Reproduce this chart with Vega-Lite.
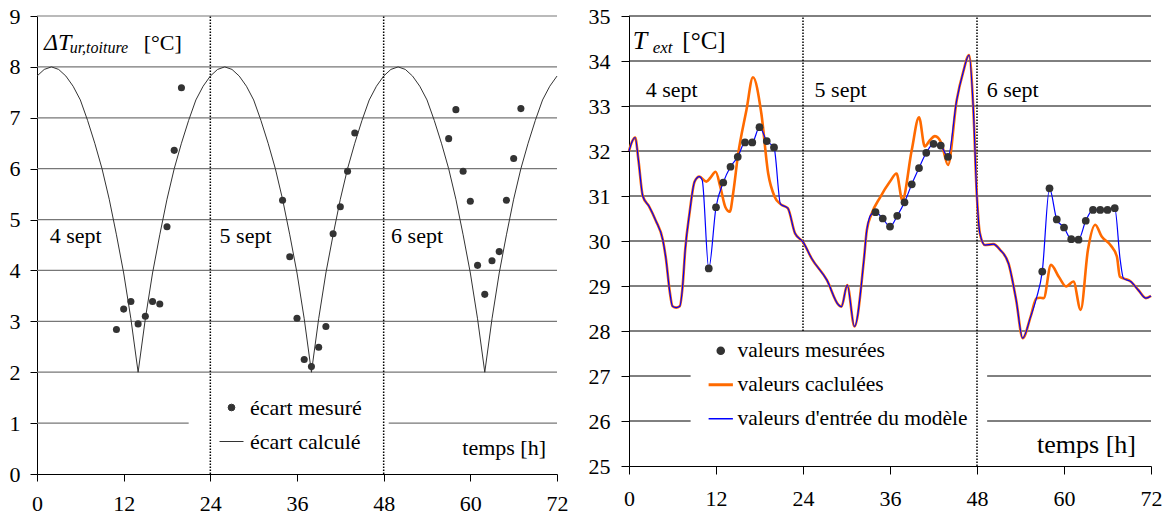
{
  "$schema": "https://vega.github.io/schema/vega-lite/v6.json",
  "padding": {"left": 9, "top": 5, "right": 0, "bottom": 0},
  "spacing": 20,
  "config": {
    "view": {"stroke": null},
    "text": {"font": "'Liberation Serif', 'Times New Roman', Times, serif"},
    "style": {"guide-label": {"font": "'Liberation Serif', 'Times New Roman', Times, serif"}},
    "axis": {"labelColor": "#000", "labelFlush": false, "labelOverlap": false, "grid": false, "domainColor": "#000", "tickColor": "#000", "domainWidth": 1, "tickWidth": 1}
  },
  "resolve": {"scale": {"x": "independent", "y": "independent", "color": "independent"}, "legend": {"color": "independent"}},
  "hconcat": [
    {
      "width": 520,
      "height": 458,
      "encoding": {
        "x": {"field": "h", "type": "quantitative", "title": null, "scale": {"domain": [0, 72], "nice": false},
              "axis": {"values": [0, 12, 24, 36, 48, 60, 72], "tickSize": 7, "labelPadding": 12, "labelFontSize": 22, "labelFont": "'Liberation Serif', 'Times New Roman', Times, serif",
                       "encode": {"labels": {"update": {"font": {"value": "'Liberation Serif', 'Times New Roman', Times, serif"}}}}}},
        "y": {"field": "v", "type": "quantitative", "title": null, "scale": {"domain": [0, 9], "nice": false},
              "axis": {"values": [0, 1, 2, 3, 4, 5, 6, 7, 8, 9], "tickSize": 7, "labelPadding": 10, "labelFontSize": 22, "labelFont": "'Liberation Serif', 'Times New Roman', Times, serif",
                       "encode": {"labels": {"update": {"font": {"value": "'Liberation Serif', 'Times New Roman', Times, serif"}}}}}}
      },
      "layer": [
        {
          "data": {"values": [
            {"v": 2, "h": 0, "h2": 72}, {"v": 3, "h": 0, "h2": 72}, {"v": 4, "h": 0, "h2": 72}, {"v": 5, "h": 0, "h2": 72},
            {"v": 6, "h": 0, "h2": 72}, {"v": 7, "h": 0, "h2": 72}, {"v": 8, "h": 0, "h2": 72}, {"v": 9, "h": 0, "h2": 72},
            {"v": 1, "h": 0, "h2": 21}, {"v": 1, "h": 48.7, "h2": 72}
          ]},
          "mark": {"type": "rule", "color": "#777777", "strokeWidth": 1.2},
          "encoding": {"x2": {"field": "h2"}}
        },
        {
          "data": {"values": [
            {"h": 0, "v": 7.82}, {"h": 1, "v": 7.95}, {"h": 2, "v": 8.0}, {"h": 3, "v": 7.95}, {"h": 4, "v": 7.82}, {"h": 5, "v": 7.62},
            {"h": 6, "v": 7.35}, {"h": 7, "v": 6.95}, {"h": 8, "v": 6.5}, {"h": 9, "v": 6.0}, {"h": 10, "v": 5.4}, {"h": 11, "v": 4.7},
            {"h": 12, "v": 3.95}, {"h": 13, "v": 3.05}, {"h": 14, "v": 2.0}, {"h": 15, "v": 3.05}, {"h": 16, "v": 3.95}, {"h": 17, "v": 4.7},
            {"h": 18, "v": 5.4}, {"h": 19, "v": 6.0}, {"h": 20, "v": 6.5}, {"h": 21, "v": 6.95}, {"h": 22, "v": 7.35}, {"h": 23, "v": 7.62},
            {"h": 24, "v": 7.82}, {"h": 25, "v": 7.95}, {"h": 26, "v": 8.0}, {"h": 27, "v": 7.95}, {"h": 28, "v": 7.82}, {"h": 29, "v": 7.62},
            {"h": 30, "v": 7.35}, {"h": 31, "v": 6.95}, {"h": 32, "v": 6.5}, {"h": 33, "v": 6.0}, {"h": 34, "v": 5.4}, {"h": 35, "v": 4.7},
            {"h": 36, "v": 3.95}, {"h": 37, "v": 3.05}, {"h": 38, "v": 2.0}, {"h": 39, "v": 3.05}, {"h": 40, "v": 3.95}, {"h": 41, "v": 4.7},
            {"h": 42, "v": 5.4}, {"h": 43, "v": 6.0}, {"h": 44, "v": 6.5}, {"h": 45, "v": 6.95}, {"h": 46, "v": 7.35}, {"h": 47, "v": 7.62},
            {"h": 48, "v": 7.82}, {"h": 49, "v": 7.95}, {"h": 50, "v": 8.0}, {"h": 51, "v": 7.95}, {"h": 52, "v": 7.82}, {"h": 53, "v": 7.62},
            {"h": 54, "v": 7.35}, {"h": 55, "v": 6.95}, {"h": 56, "v": 6.5}, {"h": 57, "v": 6.0}, {"h": 58, "v": 5.4}, {"h": 59, "v": 4.7},
            {"h": 60, "v": 3.95}, {"h": 61, "v": 3.05}, {"h": 62, "v": 2.0}, {"h": 63, "v": 3.05}, {"h": 64, "v": 3.95}, {"h": 65, "v": 4.7},
            {"h": 66, "v": 5.4}, {"h": 67, "v": 6.0}, {"h": 68, "v": 6.5}, {"h": 69, "v": 6.95}, {"h": 70, "v": 7.35}, {"h": 71, "v": 7.62},
            {"h": 72, "v": 7.82}
          ]},
          "mark": {"type": "line", "strokeWidth": 1},
          "encoding": {
            "color": {"datum": "écart calculé", "type": "nominal",
              "scale": {"domain": ["écart mesuré", "écart calculé"], "range": ["#333333", "#333333"]},
              "legend": {
                "orient": "none", "legendX": 182, "legendY": 379, "title": null, "padding": 0,
                "labelFont": "'Liberation Serif', 'Times New Roman', Times, serif",
                "labelFontSize": 22, "labelColor": "#000", "labelOffset": 6, "rowPadding": 10, "labelLimit": 0,
                "symbolType": "stroke", "symbolSize": 576, "symbolStrokeWidth": 1,
                "encode": {
                  "labels": {"update": {"font": {"value": "'Liberation Serif', 'Times New Roman', Times, serif"}}},
                  "symbols": {"update": {
                    "shape": {"signal": "datum.index === 0 ? 'circle' : 'stroke'"},
                    "size": {"signal": "datum.index === 0 ? 45 : 576"},
                    "fill": {"signal": "datum.index === 0 ? '#333333' : 'transparent'"},
                    "stroke": {"signal": "datum.index === 0 ? 'transparent' : '#333333'"},
                    "strokeWidth": {"value": 1},
                    "opacity": {"value": 1}
                  }}
                }
              }}
          }
        },
        {
          "data": {"values": [
            {"h": 11, "v": 2.84}, {"h": 12, "v": 3.24}, {"h": 13, "v": 3.39}, {"h": 14, "v": 2.95}, {"h": 15, "v": 3.10},
            {"h": 16, "v": 3.39}, {"h": 17, "v": 3.34}, {"h": 18, "v": 4.86}, {"h": 19, "v": 6.36}, {"h": 20, "v": 7.59},
            {"h": 34, "v": 5.38}, {"h": 35, "v": 4.27}, {"h": 36, "v": 3.06}, {"h": 37, "v": 2.25}, {"h": 38, "v": 2.11},
            {"h": 39, "v": 2.49}, {"h": 40, "v": 2.90}, {"h": 41, "v": 4.72}, {"h": 42, "v": 5.25}, {"h": 43, "v": 5.95}, {"h": 44, "v": 6.70},
            {"h": 57, "v": 6.59}, {"h": 58, "v": 7.16}, {"h": 59, "v": 5.95}, {"h": 60, "v": 5.36}, {"h": 61, "v": 4.10},
            {"h": 62, "v": 3.53}, {"h": 63, "v": 4.19}, {"h": 64, "v": 4.37}, {"h": 65, "v": 5.38}, {"h": 66, "v": 6.20}, {"h": 67, "v": 7.18}
          ]},
          "mark": {"type": "point", "filled": true, "size": 50, "opacity": 1},
          "encoding": {
            "color": {"datum": "écart mesuré", "type": "nominal"}
          }
        },
        {
          "data": {"values": [{"h": 24, "v": 0, "v2": 9}, {"h": 48, "v": 0, "v2": 9}]},
          "mark": {"type": "rule", "color": "#000", "strokeWidth": 1.5, "strokeDash": [1.5, 1.5]},
          "encoding": {"y2": {"field": "v2"}}
        },
        {
          "data": {"values": [{"h": 1.76, "v": 4.54, "t": "4 sept"}, {"h": 25.28, "v": 4.54, "t": "5 sept"}, {"h": 49.03, "v": 4.54, "t": "6 sept"}, {"h": 14.77, "v": 8.33, "t": "[°C]"}]},
          "mark": {"type": "text", "align": "left", "baseline": "alphabetic", "fontSize": 22, "color": "#000"},
          "encoding": {"text": {"field": "t"}}
        },
        {
          "data": {"values": [{"h": 70.48, "v": 0.37, "t": "temps [h]"}]},
          "mark": {"type": "text", "align": "right", "baseline": "alphabetic", "fontSize": 22, "color": "#000"},
          "encoding": {"text": {"field": "t"}}
        },
        {
          "data": {"values": [{"h": 0.97, "v": 8.33, "t": "ΔT"}]},
          "mark": {"type": "text", "align": "left", "baseline": "alphabetic", "fontSize": 24, "fontStyle": "italic", "color": "#000"},
          "encoding": {"text": {"field": "t"}}
        },
        {
          "data": {"values": [{"h": 4.52, "v": 8.27, "t": "ur,toiture"}]},
          "mark": {"type": "text", "align": "left", "baseline": "alphabetic", "fontSize": 16, "fontStyle": "italic", "color": "#000"},
          "encoding": {"text": {"field": "t"}}
        }
      ]
    },
    {
      "width": 522,
      "height": 450,
      "encoding": {
        "x": {"field": "h", "type": "quantitative", "title": null, "scale": {"domain": [0, 72], "nice": false},
              "axis": {"values": [0, 12, 24, 36, 48, 60, 72], "tickSize": 8, "labelPadding": 14, "labelFontSize": 22, "labelFont": "'Liberation Serif', 'Times New Roman', Times, serif",
                       "encode": {"labels": {"update": {"font": {"value": "'Liberation Serif', 'Times New Roman', Times, serif"}}}}}},
        "y": {"field": "v", "type": "quantitative", "title": null, "scale": {"domain": [25, 35], "nice": false, "zero": false},
              "axis": {"values": [25, 26, 27, 28, 29, 30, 31, 32, 33, 34, 35], "tickSize": 8, "labelPadding": 11, "labelFontSize": 22, "labelFont": "'Liberation Serif', 'Times New Roman', Times, serif",
                       "encode": {"labels": {"update": {"font": {"value": "'Liberation Serif', 'Times New Roman', Times, serif"}}}}}}
      },
      "layer": [
        {
          "data": {"values": [
            {"v": 28, "h": 0, "h2": 72}, {"v": 29, "h": 0, "h2": 72}, {"v": 30, "h": 0, "h2": 72}, {"v": 31, "h": 0, "h2": 72},
            {"v": 32, "h": 0, "h2": 72}, {"v": 33, "h": 0, "h2": 72}, {"v": 34, "h": 0, "h2": 72}, {"v": 35, "h": 0, "h2": 72},
            {"v": 27, "h": 0, "h2": 8.5}, {"v": 27, "h": 49.4, "h2": 72}, {"v": 26, "h": 0, "h2": 8.5}, {"v": 26, "h": 49.4, "h2": 72}
          ]},
          "mark": {"type": "rule", "color": "#000", "strokeWidth": 1},
          "encoding": {"x2": {"field": "h2"}}
        },
        {
          "data": {"values": [{"h": 24, "v": 28, "v2": 35}, {"h": 48, "v": 25, "v2": 35}]},
          "mark": {"type": "rule", "color": "#000", "strokeWidth": 1.5, "strokeDash": [1.5, 1.5]},
          "encoding": {"y2": {"field": "v2"}}
        },
        {
          "data": {"values": [
            {"h": 0, "v": 32.0}, {"h": 0.4, "v": 32.2}, {"h": 0.85, "v": 32.3}, {"h": 1.3, "v": 31.8}, {"h": 1.9, "v": 31.0},
            {"h": 2.8, "v": 30.76}, {"h": 3.7, "v": 30.45}, {"h": 4.67, "v": 30.02}, {"h": 5.1, "v": 29.6}, {"h": 5.6, "v": 28.9},
            {"h": 6.0, "v": 28.55}, {"h": 6.5, "v": 28.52}, {"h": 7.0, "v": 28.55}, {"h": 7.4, "v": 29.0}, {"h": 7.75, "v": 29.8},
            {"h": 8.35, "v": 30.62}, {"h": 9.05, "v": 31.32}, {"h": 9.7, "v": 31.43},
            {"h": 10.66, "v": 31.32}, {"h": 11.2, "v": 31.4}, {"h": 11.95, "v": 31.54}, {"h": 12.6, "v": 31.2}, {"h": 13.3, "v": 30.75},
            {"h": 13.9, "v": 30.65}, {"h": 14.4, "v": 31.1}, {"h": 15.0, "v": 31.87}, {"h": 16.2, "v": 32.91}, {"h": 17.1, "v": 33.64},
            {"h": 18.25, "v": 32.84}, {"h": 19.2, "v": 31.5}, {"h": 20.1, "v": 30.98}, {"h": 20.9, "v": 30.82},
            {"h": 21.9, "v": 30.73}, {"h": 22.9, "v": 30.17}, {"h": 24, "v": 29.98}, {"h": 25.2, "v": 29.61}, {"h": 27.3, "v": 29.13},
            {"h": 28.9, "v": 28.58}, {"h": 29.3, "v": 28.54}, {"h": 30.1, "v": 29.02}, {"h": 31.1, "v": 28.1}, {"h": 32.4, "v": 29.58},
            {"h": 32.8, "v": 30.24}, {"h": 33.45, "v": 30.6},
            {"h": 34.6, "v": 30.96}, {"h": 36.0, "v": 31.32}, {"h": 36.9, "v": 31.5}, {"h": 37.7, "v": 30.91}, {"h": 39.0, "v": 32.02},
            {"h": 40.0, "v": 32.75}, {"h": 40.8, "v": 32.1}, {"h": 41.5, "v": 32.24}, {"h": 42.2, "v": 32.33}, {"h": 43.1, "v": 32.17},
            {"h": 44.0, "v": 31.69},
            {"h": 45.2, "v": 33.13}, {"h": 46.1, "v": 33.76}, {"h": 46.9, "v": 34.13}, {"h": 47.5, "v": 32.91}, {"h": 47.96, "v": 31.07},
            {"h": 48.4, "v": 30.17}, {"h": 49.1, "v": 29.91}, {"h": 50.25, "v": 29.93}, {"h": 51.2, "v": 29.8}, {"h": 52.35, "v": 29.5},
            {"h": 53.4, "v": 28.69}, {"h": 54.3, "v": 27.84}, {"h": 55.4, "v": 28.32}, {"h": 56.2, "v": 28.73},
            {"h": 56.7, "v": 28.74}, {"h": 57.2, "v": 28.73}, {"h": 58.2, "v": 29.47}, {"h": 59.3, "v": 29.2}, {"h": 60.3, "v": 28.99},
            {"h": 61.3, "v": 29.1}, {"h": 62.3, "v": 28.47}, {"h": 63.3, "v": 29.8}, {"h": 64.3, "v": 30.36}, {"h": 65.2, "v": 30.1},
            {"h": 66.4, "v": 29.91}, {"h": 67.3, "v": 29.65}, {"h": 67.7, "v": 29.21}, {"h": 68.2, "v": 29.17},
            {"h": 69.2, "v": 29.1}, {"h": 70.3, "v": 28.9}, {"h": 71.3, "v": 28.73}, {"h": 72, "v": 28.78}
          ]},
          "mark": {"type": "line", "strokeWidth": 2.6, "interpolate": "monotone"},
          "encoding": {
            "color": {"datum": "valeurs caclulées", "type": "nominal",
              "scale": {"domain": ["valeurs mesurées", "valeurs caclulées", "valeurs d'entrée du modèle"], "range": ["#333333", "#ff6a00", "#0000ff"]},
              "legend": {
                "orient": "none", "legendX": 81, "legendY": 324, "title": null, "padding": 0,
                "labelFont": "'Liberation Serif', 'Times New Roman', Times, serif",
                "labelFontSize": 21.5, "labelColor": "#000", "labelOffset": 6, "rowPadding": 11, "labelLimit": 0,
                "symbolType": "stroke", "symbolSize": 590, "symbolStrokeWidth": 1,
                "encode": {
                  "labels": {"update": {"font": {"value": "'Liberation Serif', 'Times New Roman', Times, serif"}}},
                  "symbols": {"update": {
                    "shape": {"signal": "datum.index === 0 ? 'circle' : 'stroke'"},
                    "size": {"signal": "datum.index === 0 ? 50 : 590"},
                    "fill": {"signal": "datum.index === 0 ? '#333333' : 'transparent'"},
                    "stroke": {"signal": "datum.index === 0 ? 'transparent' : (datum.index === 1 ? '#ff6a00' : '#0000ff')"},
                    "strokeWidth": {"signal": "datum.index === 1 ? 3 : 1.5"},
                    "opacity": {"value": 1}
                  }}
                }
              }}
          }
        },
        {
          "data": {"values": [
            {"h": 0, "v": 32.0}, {"h": 0.4, "v": 32.2}, {"h": 0.85, "v": 32.3}, {"h": 1.3, "v": 31.8}, {"h": 1.9, "v": 31.0},
            {"h": 2.8, "v": 30.76}, {"h": 3.7, "v": 30.45}, {"h": 4.67, "v": 30.02}, {"h": 5.1, "v": 29.6}, {"h": 5.6, "v": 28.9},
            {"h": 6.0, "v": 28.55}, {"h": 6.5, "v": 28.52}, {"h": 7.0, "v": 28.55}, {"h": 7.4, "v": 29.0}, {"h": 7.75, "v": 29.8},
            {"h": 8.35, "v": 30.62}, {"h": 9.05, "v": 31.32}, {"h": 9.7, "v": 31.43}, {"h": 10.1, "v": 31.35},
            {"h": 11, "v": 29.39}, {"h": 12, "v": 30.75}, {"h": 13, "v": 31.30}, {"h": 14, "v": 31.65}, {"h": 15, "v": 31.87},
            {"h": 16, "v": 32.19}, {"h": 17, "v": 32.19}, {"h": 18, "v": 32.53}, {"h": 19, "v": 32.22}, {"h": 20, "v": 32.08},
            {"h": 20.9, "v": 30.82}, {"h": 21.9, "v": 30.73}, {"h": 22.9, "v": 30.17}, {"h": 24, "v": 29.98}, {"h": 25.2, "v": 29.61},
            {"h": 27.3, "v": 29.13}, {"h": 28.9, "v": 28.58}, {"h": 29.3, "v": 28.54}, {"h": 30.1, "v": 29.02}, {"h": 31.1, "v": 28.1},
            {"h": 32.4, "v": 29.58}, {"h": 32.8, "v": 30.24}, {"h": 33.45, "v": 30.6},
            {"h": 34, "v": 30.64}, {"h": 35, "v": 30.50}, {"h": 36, "v": 30.32}, {"h": 37, "v": 30.56}, {"h": 38, "v": 30.86},
            {"h": 39, "v": 31.26}, {"h": 40, "v": 31.62}, {"h": 41, "v": 31.96}, {"h": 42, "v": 32.16}, {"h": 43, "v": 32.12}, {"h": 44, "v": 31.87},
            {"h": 45.2, "v": 33.13}, {"h": 46.1, "v": 33.76}, {"h": 46.9, "v": 34.13}, {"h": 47.5, "v": 32.91}, {"h": 47.96, "v": 31.07},
            {"h": 48.4, "v": 30.17}, {"h": 49.1, "v": 29.91}, {"h": 50.25, "v": 29.93}, {"h": 51.2, "v": 29.8}, {"h": 52.35, "v": 29.5},
            {"h": 53.4, "v": 28.69}, {"h": 54.3, "v": 27.84}, {"h": 55.4, "v": 28.32}, {"h": 56.2, "v": 28.73},
            {"h": 57, "v": 29.32}, {"h": 58, "v": 31.17}, {"h": 59, "v": 30.48}, {"h": 60, "v": 30.30}, {"h": 61, "v": 30.04},
            {"h": 62, "v": 30.03}, {"h": 63, "v": 30.45}, {"h": 64, "v": 30.69}, {"h": 65, "v": 30.69}, {"h": 66, "v": 30.69}, {"h": 67, "v": 30.73},
            {"h": 67.75, "v": 29.58}, {"h": 68.2, "v": 29.17}, {"h": 69.2, "v": 29.1}, {"h": 70.3, "v": 28.9}, {"h": 71.3, "v": 28.73}, {"h": 72, "v": 28.78}
          ]},
          "mark": {"type": "line", "strokeWidth": 1.2, "interpolate": "monotone"},
          "encoding": {
            "color": {"datum": "valeurs d'entrée du modèle", "type": "nominal"}
          }
        },
        {
          "data": {"values": [
            {"h": 11, "v": 29.39}, {"h": 12, "v": 30.75}, {"h": 13, "v": 31.30}, {"h": 14, "v": 31.65}, {"h": 15, "v": 31.87},
            {"h": 16, "v": 32.19}, {"h": 17, "v": 32.19}, {"h": 18, "v": 32.53}, {"h": 19, "v": 32.22}, {"h": 20, "v": 32.08},
            {"h": 34, "v": 30.64}, {"h": 35, "v": 30.50}, {"h": 36, "v": 30.32}, {"h": 37, "v": 30.56}, {"h": 38, "v": 30.86},
            {"h": 39, "v": 31.26}, {"h": 40, "v": 31.62}, {"h": 41, "v": 31.96}, {"h": 42, "v": 32.16}, {"h": 43, "v": 32.12}, {"h": 44, "v": 31.87},
            {"h": 57, "v": 29.32}, {"h": 58, "v": 31.17}, {"h": 59, "v": 30.48}, {"h": 60, "v": 30.30}, {"h": 61, "v": 30.04},
            {"h": 62, "v": 30.03}, {"h": 63, "v": 30.45}, {"h": 64, "v": 30.69}, {"h": 65, "v": 30.69}, {"h": 66, "v": 30.69}, {"h": 67, "v": 30.73}
          ]},
          "mark": {"type": "point", "filled": true, "size": 60, "opacity": 1},
          "encoding": {
            "color": {"datum": "valeurs mesurées", "type": "nominal"}
          }
        },
        {
          "data": {"values": [{"h": 2.3, "v": 33.21, "t": "4 sept"}, {"h": 25.6, "v": 33.21, "t": "5 sept"}, {"h": 49.34, "v": 33.21, "t": "6 sept"}]},
          "mark": {"type": "text", "align": "left", "baseline": "alphabetic", "fontSize": 22, "color": "#000"},
          "encoding": {"text": {"field": "t"}}
        },
        {
          "data": {"values": [{"h": 69.93, "v": 25.28, "t": "temps [h]"}]},
          "mark": {"type": "text", "align": "right", "baseline": "alphabetic", "fontSize": 26, "color": "#000"},
          "encoding": {"text": {"field": "t"}}
        },
        {
          "data": {"values": [{"h": 0.51, "v": 34.27, "t": "T"}]},
          "mark": {"type": "text", "align": "left", "baseline": "alphabetic", "fontSize": 26, "fontStyle": "italic", "color": "#000"},
          "encoding": {"text": {"field": "t"}}
        },
        {
          "data": {"values": [{"h": 3.27, "v": 34.18, "t": "ext"}]},
          "mark": {"type": "text", "align": "left", "baseline": "alphabetic", "fontSize": 17, "fontStyle": "italic", "color": "#000"},
          "encoding": {"text": {"field": "t"}}
        },
        {
          "data": {"values": [{"h": 7.36, "v": 34.27, "t": "[°C]"}]},
          "mark": {"type": "text", "align": "left", "baseline": "alphabetic", "fontSize": 25, "color": "#000"},
          "encoding": {"text": {"field": "t"}}
        }
      ]
    }
  ]
}
